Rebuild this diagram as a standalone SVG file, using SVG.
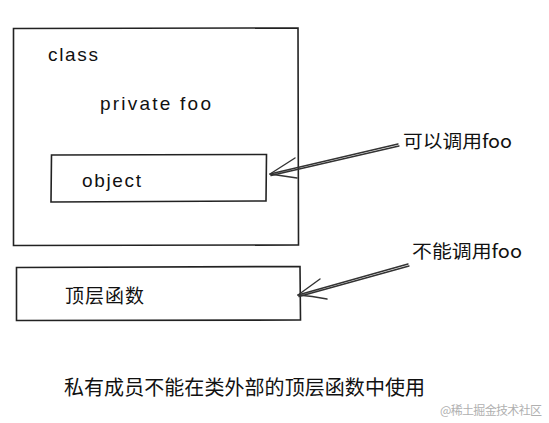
<svg xmlns="http://www.w3.org/2000/svg" width="549" height="423" viewBox="0 0 549 423">
<style>
.box{fill:none;stroke:#222;stroke-width:1.6}
.conn{fill:none;stroke:#333;stroke-width:1.4;stroke-linecap:round;stroke-linejoin:round}
.hand{font-family:"Liberation Sans","Noto Sans",sans-serif;font-size:19px;fill:#111}
.cjk{font-family:"Noto Sans CJK SC","Noto Sans",sans-serif;fill:#111}
.wm{font-family:"Noto Sans CJK SC",sans-serif;font-size:12px;fill:#b0b0b0}
</style>
<rect width="549" height="423" fill="#fff"/>
<g id="class-node">
<path class="box" d="M13.5 28.5 L298 28 L298.5 245 L13.5 245.5 Z"/>
<text class="hand" x="48" y="61" textLength="50">class</text>
<text class="hand" x="100" y="110" textLength="111">private foo</text>
</g>
<g id="object-node">
<path class="box" d="M51.5 155 L266.5 154.5 L266 201 L51 202 Z"/>
<text class="hand" x="82" y="187" textLength="59">object</text>
</g>
<g id="toplevel-node">
<path class="box" d="M16.5 267.5 L300 266.5 L300.5 320 L16.5 320.5 Z"/>
<text class="cjk" x="65" y="303" font-size="19" textLength="79">顶层函数</text>
</g>
<g id="connectors">
<path class="conn" d="M398 144 L270 174 M399 146 L271 175.5"/>
<path class="conn" d="M295 158 L270 174 L297 178"/>
<path class="conn" d="M408 264 L298 295 M409 266 L299 296.5"/>
<path class="conn" d="M320 279 L298 295 Q312 296 327 299"/>
</g>
<g id="labels">
<text class="cjk" x="403" y="148" font-size="18" textLength="109" lengthAdjust="spacingAndGlyphs">可以调用foo</text>
<text class="cjk" x="412" y="258" font-size="18" textLength="110" lengthAdjust="spacingAndGlyphs">不能调用foo</text>
<text class="cjk" x="64" y="395" font-size="20" textLength="361">私有成员不能在类外部的顶层函数中使用</text>
<text class="wm" x="440" y="415" textLength="102">@稀土掘金技术社区</text>
</g>
</svg>
